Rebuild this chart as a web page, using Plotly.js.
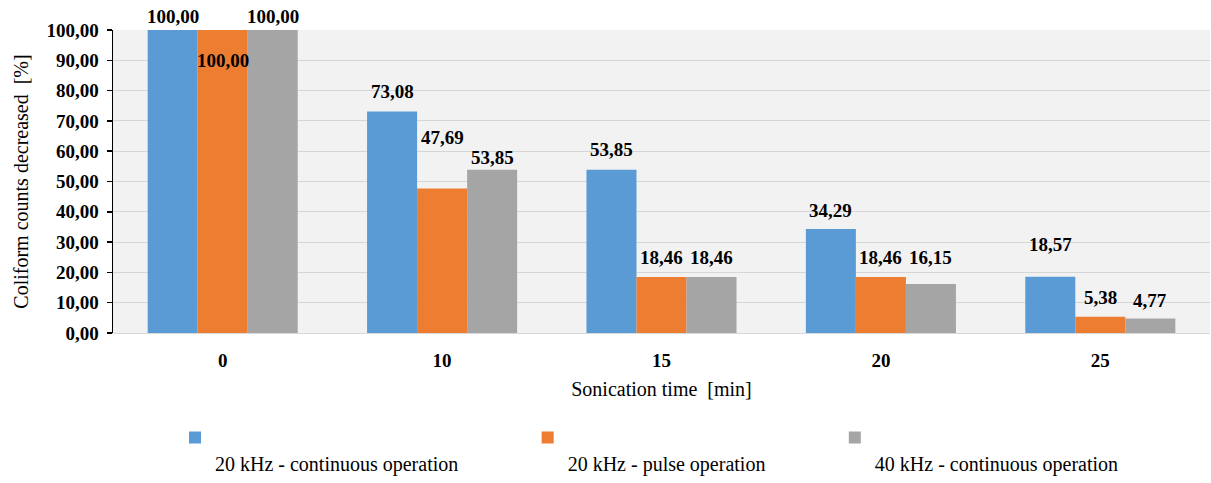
<!DOCTYPE html>
<html><head><meta charset="utf-8">
<script src="https://cdn.plot.ly/plotly-3.0.1.min.js"></script>
<style>html,body{margin:0;padding:0;background:#fff;}#chart{width:1211px;height:483px;}</style>
</head><body><div id="chart"></div>
<script>
const categories = ['0', '10', '15', '20', '25'];
const seriesNames = ['20 kHz - continuous operation', '20 kHz - pulse operation', '40 kHz - continuous operation'];
const cont20 = [100.00, 73.08, 53.85, 34.29, 18.57];
const pulse20 = [100.00, 47.69, 18.46, 18.46, 5.38];
const cont40 = [100.00, 53.85, 18.46, 16.15, 4.77];
const yTicks = [0, 10, 20, 30, 40, 50, 60, 70, 80, 90, 100];

// label nudges (pixels above bar top), per series, per category — style only
const labelLift = [
  [14, 20, 20, 19, 32],
  [-30, 51, 20, 20, 19],
  [14, 12, 20, 27, 18]
];

const colors = ['#5b9bd5', '#ed7d31', '#a5a5a5'];
const series = [cont20, pulse20, cont40];
const legendIds = ['legend', 'legend2', 'legend3'];
const SERIF = "'Liberation Serif', 'Times New Roman', Times, serif";
const numFont = {family: SERIF, size: 19, color: '#000', weight: 'bold'};
const bargap = 0.316;

const traces = series.map((vals, i) => ({
  type: 'bar',
  x: categories,
  y: vals,
  name: '<br>' + seriesNames[i],
  legend: legendIds[i],
  marker: {color: colors[i]},
  hoverinfo: 'skip'
}));

const fmt = v => v.toFixed(2).replace('.', ',');
const annotations = [];
series.forEach((vals, i) => {
  const off = (i - 1) * (1 - bargap) / 3;
  vals.forEach((v, j) => {
    annotations.push({
      x: j + off, y: v, xref: 'x', yref: 'y',
      text: '<b>' + fmt(v) + '</b>',
      showarrow: false, xanchor: 'center', yanchor: 'middle',
      yshift: labelLift[i][j],
      font: numFont
    });
  });
});

const legendBase = {
  orientation: 'h', yanchor: 'bottom', xanchor: 'left', yref: 'container', y: -0.022,
  valign: 'top', bgcolor: 'rgba(0,0,0,0)',
  font: {family: SERIF, size: 20, color: '#000'}
};

const layout = {
  width: 1211, height: 483,
  margin: {l: 113, r: 1, t: 30, b: 150},
  paper_bgcolor: '#ffffff',
  plot_bgcolor: '#f2f2f2',
  separators: ', ',
  barmode: 'group',
  bargap: bargap,
  bargroupgap: 0,
  showlegend: true,
  legend: Object.assign({}, legendBase, {x: 0.0565}),
  legend2: Object.assign({}, legendBase, {x: 0.378}),
  legend3: Object.assign({}, legendBase, {x: 0.658}),
  annotations: annotations,
  xaxis: {
    type: 'category',
    automargin: false,
    tickfont: {family: SERIF, size: 19, color: '#000', weight: 'bold'},
    showline: true, linecolor: '#d9d9d9', linewidth: 1,
    ticks: '', ticklabelstandoff: 10,
    title: {text: 'Sonication time\u00a0 [min]', font: {family: SERIF, size: 20, color: '#000'}, standoff: 12}
  },
  yaxis: {
    range: [0, 100],
    automargin: false,
    tickvals: yTicks,
    tickformat: '.2f',
    tickfont: {family: SERIF, size: 19, color: '#000', weight: 'bold'},
    showline: true, linecolor: '#000', linewidth: 1.5,
    ticks: 'outside', ticklen: 5, tickcolor: '#000', tickwidth: 1.5,
    ticklabelstandoff: 4,
    gridcolor: '#d6d6d6', gridwidth: 1,
    zeroline: false,
    title: {text: 'Coliform counts decreased\u00a0 [%]', font: {family: SERIF, size: 20, color: '#000'}, standoff: 12}
  }
};

Plotly.newPlot('chart', traces, layout, {displayModeBar: false, staticPlot: true});
</script>
</body></html>
